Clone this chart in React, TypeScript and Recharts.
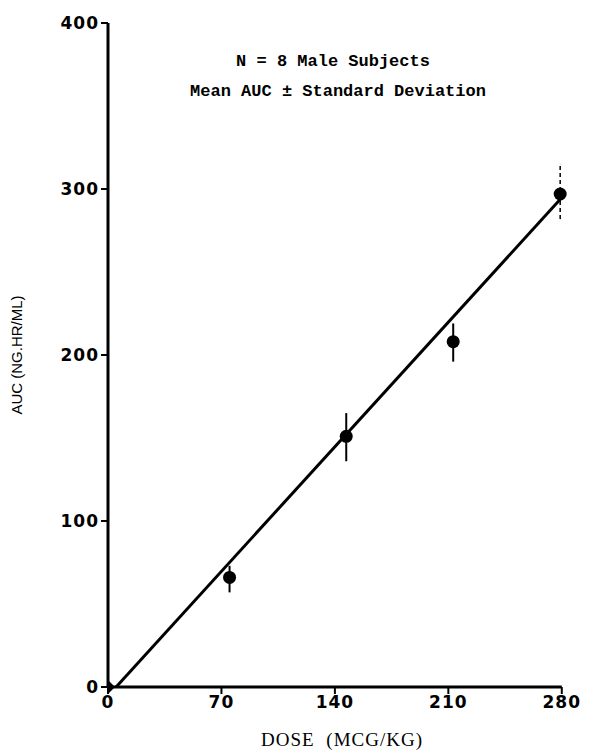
import React from 'react';
import {
  ComposedChart,
  XAxis,
  YAxis,
  Scatter,
  Line,
  ErrorBar,
  ReferenceLine,
} from 'recharts';

// dose groups (mcg/kg) and mean AUC
const doses = [75, 147, 213];
const meanAuc = [66, 151, 208];
const sdDown = [9, 15, 12];
const sdUp = [7, 14, 11];

// the top dose has a dashed SD bar, kept apart
const topDose = [279];
const topAuc = [297];
const topSdDown = [15];
const topSdUp = [18];

// origin marker
const originDose = [0];
const originAuc = [0];

// fitted line ends
const fitDose = [5, 282];
const fitAuc = [0, 297];

const xTicks = [0, 70, 140, 210, 280];
const yTicks = [0, 100, 200, 300, 400];

const points = doses.map((d, i) => ({ dose: d, auc: meanAuc[i], sd: [sdDown[i], sdUp[i]] }));
const topPoints = topDose.map((d, i) => ({ dose: d, auc: topAuc[i], sd: [topSdDown[i], topSdUp[i]] }));
const originPoints = originDose.map((d, i) => ({ dose: d, auc: originAuc[i] }));
const fitLine = fitDose.map((d, i) => ({ dose: d, fit: fitAuc[i] }));

const tickStyle = {
  fontFamily: 'DejaVu Sans',
  fontWeight: 700,
  fontSize: 17,
  letterSpacing: 1,
  fill: '#000',
};

const Dot = (props: any) => {
  const { cx, cy } = props;
  return <circle cx={cx} cy={cy} r={6.5} fill="#000" />;
};

const Diamond = (props: any) => {
  const { cx, cy } = props;
  return (
    <path d={`M${cx - 7},${cy} L${cx},${cy - 7} L${cx + 7},${cy} L${cx},${cy + 7} Z`} fill="#000" />
  );
};

const YLabel = () => (
  <text
    x={18}
    y={355}
    transform="rotate(-90, 18, 355)"
    textAnchor="middle"
    dominantBaseline="middle"
    fontFamily="Liberation Sans"
    fontSize={15}
    fill="#000"
  >
    AUC (NG.HR/ML)
  </text>
);

export default function App() {
  return (
    <div style={{ position: 'absolute', left: 0, top: 0, width: 590, height: 752, background: '#fff' }}>
      <ComposedChart width={590} height={752} margin={{ top: 23, right: 12, bottom: 25, left: 48 }}>
        <XAxis
          type="number"
          dataKey="dose"
          domain={[0, 290]}
          ticks={xTicks}
          axisLine={false}
          tickLine={{ stroke: '#000', strokeWidth: 2 }}
          tickSize={7}
          tick={tickStyle}
          height={40}
          allowDataOverflow
        />
        <YAxis
          type="number"
          domain={[0, 400]}
          ticks={yTicks}
          axisLine={{ stroke: '#000', strokeWidth: 3 }}
          tickLine={{ stroke: '#000', strokeWidth: 2 }}
          tickSize={7}
          tick={tickStyle}
          width={60}
          label={<YLabel />}
        />
        <ReferenceLine
          segment={[{ x: 0, y: 0 }, { x: 280, y: 0 }]}
          stroke="#000"
          strokeWidth={3}
        />
        <Line
          data={fitLine}
          dataKey="fit"
          type="linear"
          stroke="#000"
          strokeWidth={3}
          dot={false}
          isAnimationActive={false}
        />
        <Scatter data={points} dataKey="auc" shape={<Dot />} isAnimationActive={false}>
          <ErrorBar dataKey="sd" direction="y" width={0} stroke="#000" strokeWidth={2} />
        </Scatter>
        <Scatter data={topPoints} dataKey="auc" shape={<Dot />} isAnimationActive={false}>
          <ErrorBar dataKey="sd" direction="y" width={0} stroke="#000" strokeWidth={1.5} strokeDasharray="4 3" />
        </Scatter>
        <Scatter data={originPoints} dataKey="auc" shape={<Diamond />} isAnimationActive={false} />
        <text x={333} y={62} textAnchor="middle" dominantBaseline="middle" fontFamily="Liberation Mono" fontWeight={700} fontSize={17} fill="#000">
          N = 8 Male Subjects
        </text>
        <text x={338} y={92} textAnchor="middle" dominantBaseline="middle" fontFamily="Liberation Mono" fontWeight={700} fontSize={17} fill="#000">
          Mean AUC ± Standard Deviation
        </text>
        <text x={342} y={742} textAnchor="middle" dominantBaseline="middle" fontFamily="Liberation Serif" fontSize={19} letterSpacing={1} wordSpacing={6} fill="#000">
          DOSE (MCG/KG)
        </text>
      </ComposedChart>
    </div>
  );
}
